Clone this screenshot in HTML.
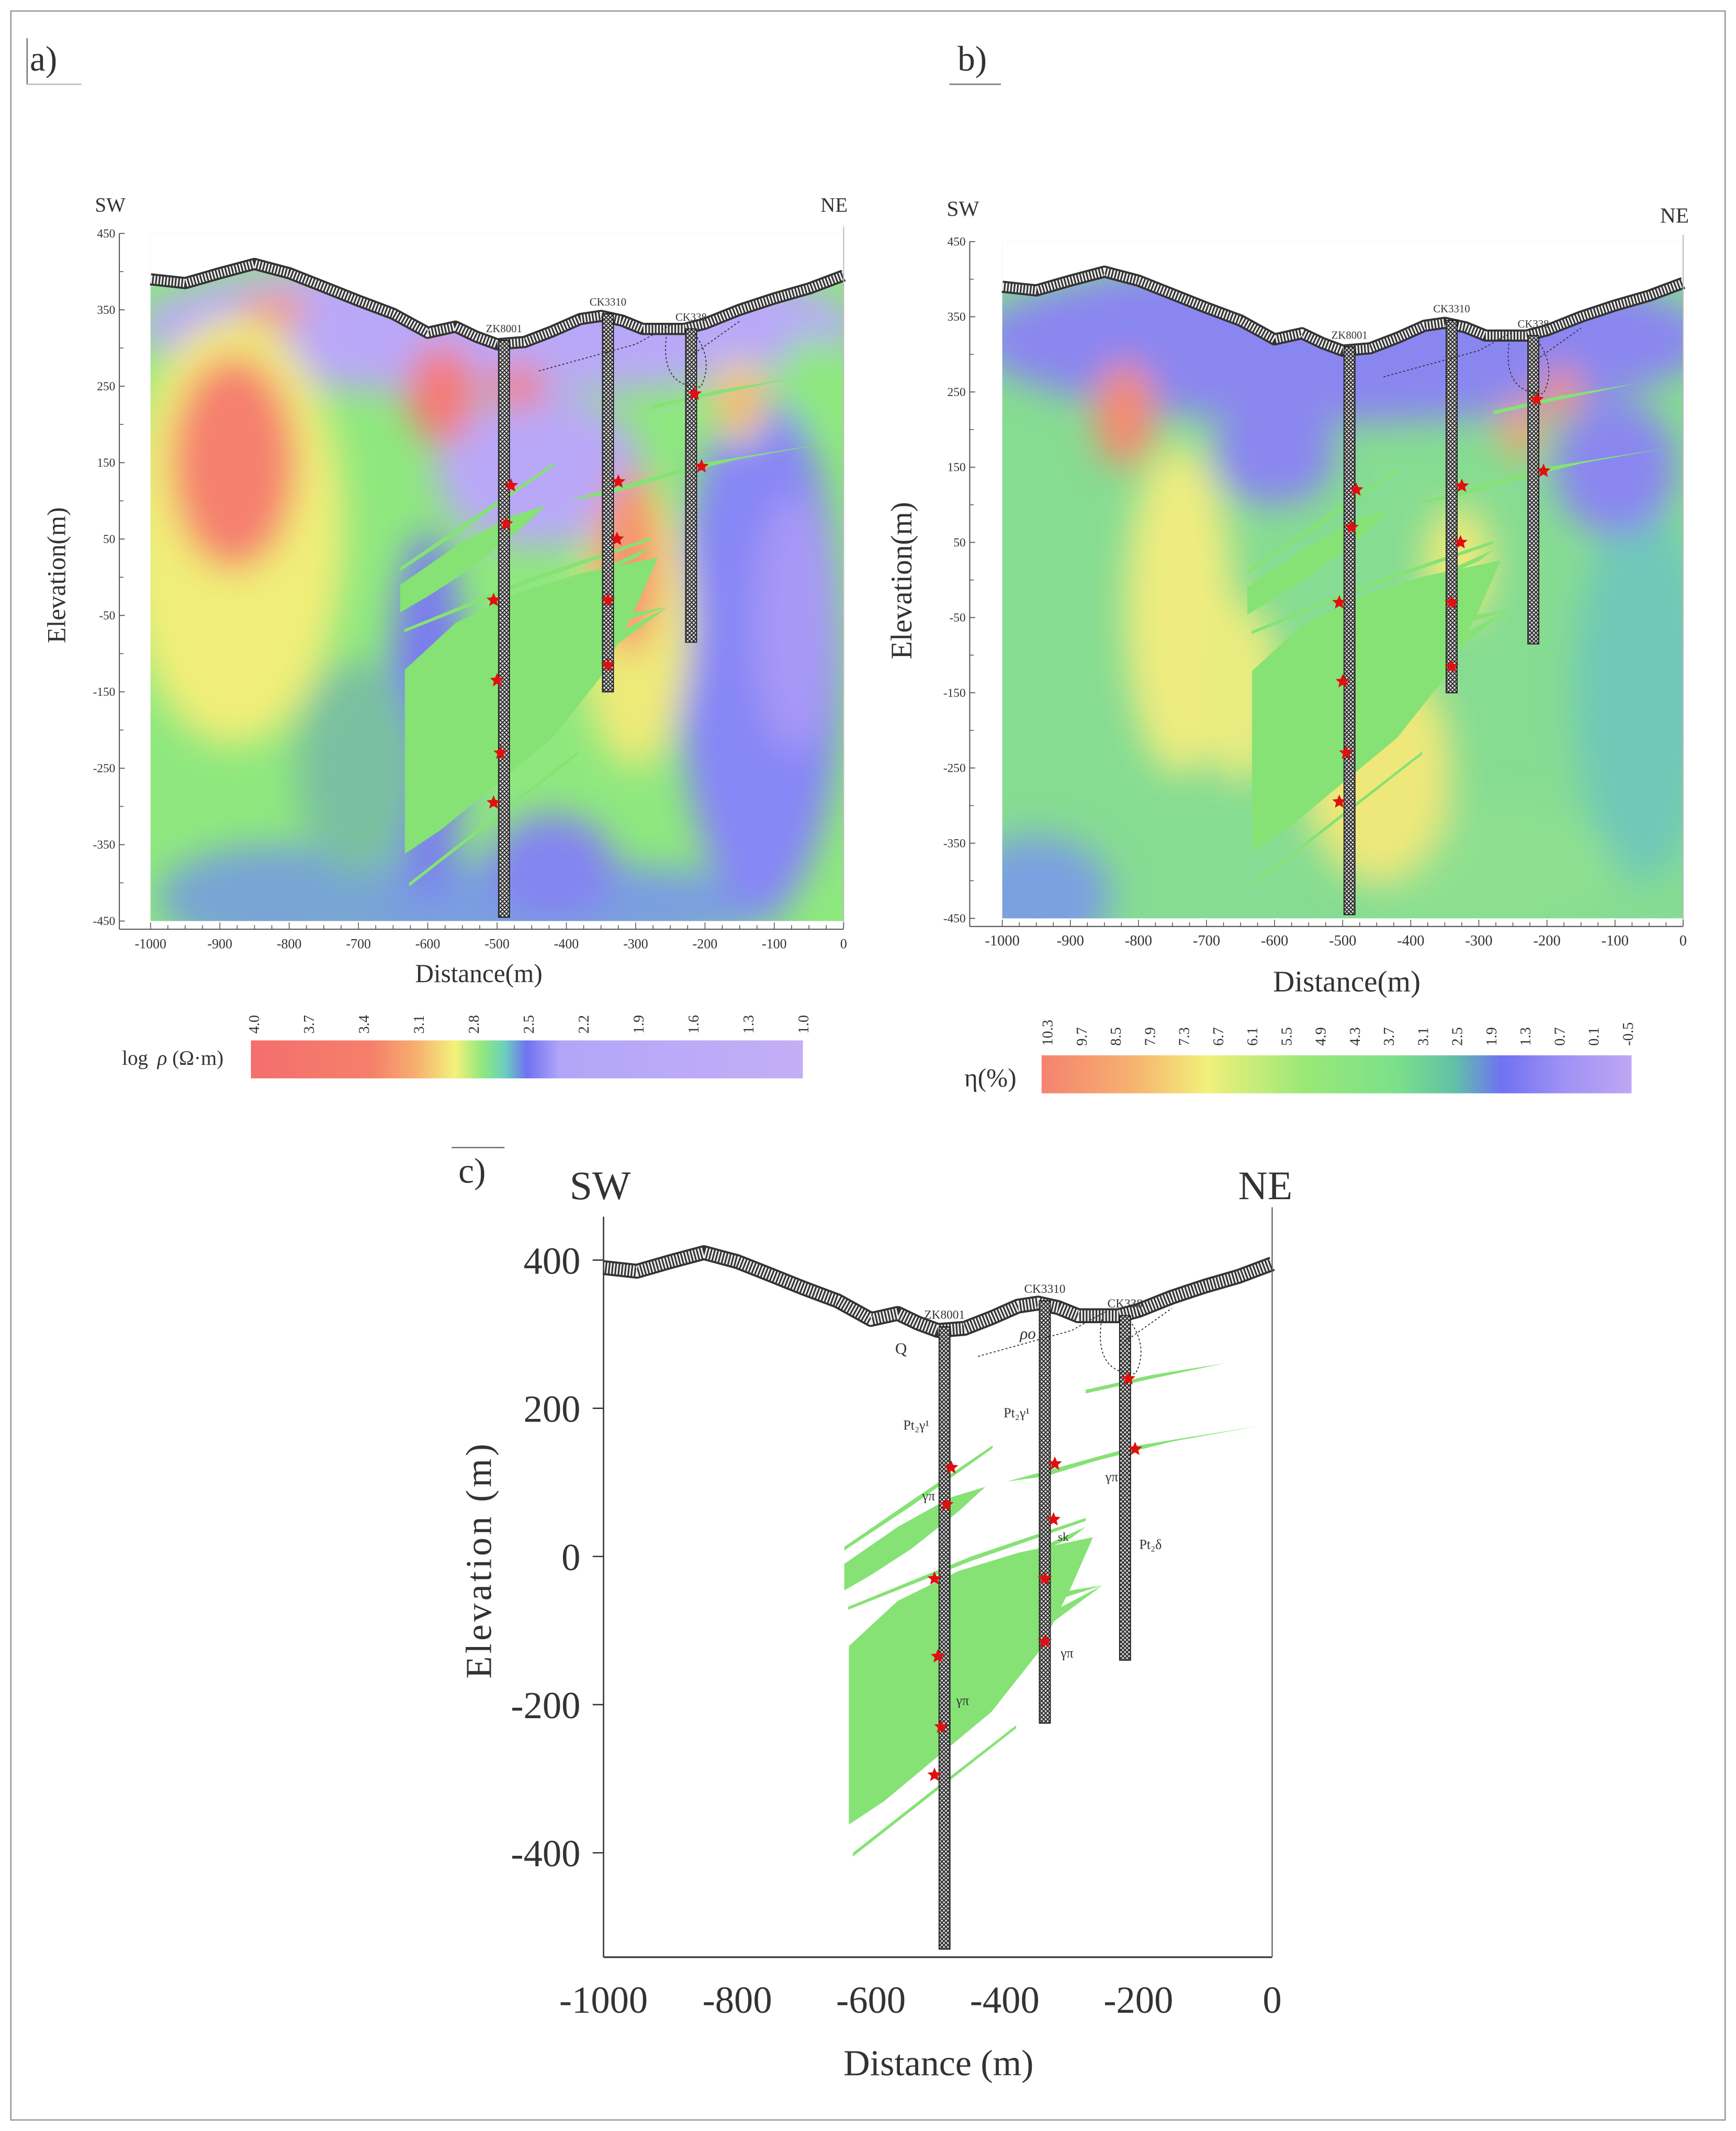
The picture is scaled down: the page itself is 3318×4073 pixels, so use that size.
<!DOCTYPE html>
<html><head><meta charset="utf-8">
<style>
html,body{margin:0;padding:0;background:#fff;}
svg{display:block;}
text{font-family:"Liberation Serif",serif;fill:#333;}
</style></head>
<body>
<svg id="fig" xmlns="http://www.w3.org/2000/svg" width="3318" height="4073" viewBox="0 0 1280 1571">
<defs>
<filter id="blurA" x="-20%" y="-20%" width="140%" height="140%"><feGaussianBlur stdDeviation="13"/></filter>
<pattern id="hatch" width="3" height="3" patternUnits="userSpaceOnUse"><rect width="3" height="3" fill="#ddd"/><path d="M0 0L3 3M3 0L0 3" stroke="#222" stroke-width="0.7"/></pattern>
<linearGradient id="cbA" x1="0" x2="1" y1="0" y2="0">
<stop offset="0" stop-color="#f46e6e"/><stop offset="0.22" stop-color="#f5806a"/><stop offset="0.3" stop-color="#f6b070"/>
<stop offset="0.37" stop-color="#f4f27a"/><stop offset="0.42" stop-color="#8ee87e"/><stop offset="0.46" stop-color="#6ccfbe"/>
<stop offset="0.5" stop-color="#6f72f2"/><stop offset="0.56" stop-color="#b2a6f8"/><stop offset="1" stop-color="#c4aef6"/>
</linearGradient>
<linearGradient id="cbB" x1="0" x2="1" y1="0" y2="0">
<stop offset="0" stop-color="#f58270"/><stop offset="0.15" stop-color="#f6b070"/><stop offset="0.28" stop-color="#f2f07a"/>
<stop offset="0.45" stop-color="#98e878"/><stop offset="0.6" stop-color="#7ce08a"/><stop offset="0.7" stop-color="#62c0a8"/>
<stop offset="0.78" stop-color="#6f72f2"/><stop offset="0.88" stop-color="#9e90f4"/><stop offset="1" stop-color="#bea8f4"/>
</linearGradient>
<clipPath id="clipA"><rect x="111" y="172" width="511" height="507"/></clipPath>
<clipPath id="clipB"><rect x="739" y="178" width="502" height="499"/></clipPath>
</defs>
<rect x="8" y="8" width="1264" height="1555" fill="none" stroke="#999" stroke-width="1"/>
<g id="root"></g>
</svg>
<script>
// ---------- data ----------
const xTicks = [-1000,-900,-800,-700,-600,-500,-400,-300,-200,-100,0];
const yTicksAB = [450,350,250,150,50,-50,-150,-250,-350,-450];
const xTicksC = [-1000,-800,-600,-400,-200,0];
const yTicksC = [400,200,0,-200,-400];
const cbLabelsA = ["4.0","3.7","3.4","3.1","2.8","2.5","2.2","1.9","1.6","1.3","1.0"];
const cbLabelsB = ["10.3","9.7","8.5","7.9","7.3","6.7","6.1","5.5","4.9","4.3","3.7","3.1","2.5","1.9","1.3","0.7","0.1","-0.5"];
const topoDist = [-1000,-950,-900,-850,-800,-750,-700,-650,-600,-560,-530,-500,-460,-420,-380,-350,-320,-290,-260,-230,-200,-150,-100,-50,0];
const topoElev = [390,385,398,410,398,380,362,345,320,328,315,305,308,322,338,342,336,325,325,325,332,350,365,378,395];
const holeNames = ["ZK8001","CK3310","CK338"];
const holeDist = [-490,-340,-220];
const holeTop = [310,345,325];
const holeBotAB = [-445,-150,-85];
const holeBotC = [-530,-225,-140];
const starDist = [-480,-487,-505,-500,-495,-505,-325,-327,-340,-340,-215,-205];
const starElev = [120,70,-30,-135,-230,-295,125,50,-30,-115,240,145];
const orebodies = [
 [[-633,-362],[-633,-121],[-560,-60],[-470,-20],[-380,5],[-268,26],[-300,-40],[-350,-130],[-420,-210],[-500,-270],[-580,-330]],
 [[-640,-46],[-640,-10],[-560,40],[-480,80],[-429,94],[-470,60],[-540,10],[-600,-25]],
 [[-640,13],[-540,75],[-418,150],[-418,146],[-540,68],[-640,8]],
 [[-634,-68],[-450,0],[-279,52],[-279,48],[-450,-6],[-634,-72]],
 [[-397,-10],[-340,15],[-279,40],[-300,25],[-360,2]],
 [[-397,-68],[-330,-50],[-254,-39],[-320,-58]],
 [[-404,-114],[-330,-75],[-254,-39],[-330,-90]],
 [[-397,101],[-300,125],[-200,150],[-21,176],[-150,155],[-260,130],[-340,108]],
 [[-279,225],[-180,245],[-70,261],[-180,240],[-279,220]],
 [[-627,-405],[-500,-315],[-383,-232],[-383,-228],[-500,-310],[-627,-400]]
];
// heatmap blobs (dist, elev, rx m, ry m, colour)
const blobA_d = [-500,-440,-880,-880,-500,-600,-120,-70,-580,-470,-820,-300,-310,-150,-150,-50,-820,-700,-420];
const blobA_e = [330,140,60,150,-430,-180,-100,-60,240,250,350,-60,20,230,230,260,-420,-250,-380];
const blobA_rx= [520,150,160,90,420,55,120,60,50,40,50,80,45,40,22,35,170,90,90];
const blobA_ry= [90,100,280,140,60,240,340,170,65,28,22,190,120,55,35,60,70,140,70];
const blobA_c = ["#b9a8f8","#b9a8f8","#f0ee78","#f5806e","#7a9ee0","#7a7af0","#8686f6","#a898f6","#f57a76","#f47a76","#f5a072","#eeea78","#f5906e","#f0e078","#f5a072","#8ee87e","#78a4d4","#7ac0a0","#8484f0"];
const blobB_d = [-500,-740,-820,-950,-330,-240,-180,-60,-600,-300,-450,-100,-650];
const blobB_e = [320,-40,220,-420,20,200,250,-150,170,-380,-250,150,-150];
const blobB_rx= [540,80,45,110,50,28,28,100,90,200,110,90,60];
const blobB_ry= [110,220,70,80,80,40,35,250,70,80,150,90,120];
const blobB_c = ["#8a86f0","#eeec80","#f58a70","#7aa0e0","#eeea7a","#f5a070","#f59070","#70c8b8","#8a86f0","#8ee090","#eee87a","#8a86f0","#e8ec80"];

// ---------- helpers ----------
const NS="http://www.w3.org/2000/svg";
const root=document.getElementById('root');
function el(tag,attrs,parent){const e=document.createElementNS(NS,tag);for(const k in attrs)e.setAttribute(k,attrs[k]);(parent||root).appendChild(e);return e;}
function txt(s,x,y,size,attrs,parent){const t=el('text',Object.assign({x:x,y:y,'font-size':size},attrs||{}),parent);t.textContent=s;return t;}
function mk(p){return{X:d=>p.x0+(d+1000)/1000*(p.x1-p.x0),Y:e=>p.yT+(p.eT-e)/(p.eT-p.eB)*(p.yB-p.yT)};}
function pts(arr,s){return arr.map(q=>s.X(q[0]).toFixed(1)+','+s.Y(q[1]).toFixed(1)).join(' ');}
function star(cx,cy,r,parent){let s='';for(let i=0;i<10;i++){const a=-Math.PI/2+i*Math.PI/5,rr=i%2?r*0.45:r;s+=(cx+rr*Math.cos(a)).toFixed(1)+','+(cy+rr*Math.sin(a)).toFixed(1)+' ';}return el('polygon',{points:s,fill:'#e01010'},parent);}

function drawGeology(s,g,labelSize,lw,holeBot){
  orebodies.forEach((b,i)=>{const p=el('polygon',{points:pts(b,s),fill:'#86e275'},g);
    
    });
  const tp=topoDist.map((d,i)=>[d,topoElev[i]]);
  const t1=el('polyline',{points:pts(tp,s),fill:'none',stroke:'#333','stroke-width':lw+2,'stroke-linejoin':'round'},g);
  
  
  el('polyline',{points:pts(tp,s),fill:'none',stroke:'#eee','stroke-width':lw-1,'stroke-dasharray':'1.2 1.2'},g);
  holeDist.forEach((d,i)=>{
    const x=s.X(d),y1=s.Y(holeTop[i]),y2=s.Y(holeBot[i]);
    const r=el('rect',{x:x-4,y:y1,width:8,height:y2-y1,fill:'url(#hatch)',stroke:'#222','stroke-width':0.8},g);
    
    
    const t=txt(holeNames[i],x,y1-6,labelSize,{'text-anchor':'middle'},g);
    
    
  });
  el('polyline',{points:pts([[-440,270],[-300,305],[-250,330]],s),fill:'none',stroke:'#333','stroke-width':0.7,'stroke-dasharray':'1.5 1.5'},g);
  el('path',{d:`M${s.X(-255)} ${s.Y(320)} q -6 40 25 40 q 10 -20 -5 -40`,fill:'none',stroke:'#333','stroke-width':0.7,'stroke-dasharray':'1.5 1.5'},g);
  el('polyline',{points:pts([[-220,290],[-150,335]],s),fill:'none',stroke:'#333','stroke-width':0.7,'stroke-dasharray':'1.5 1.5'},g);
  starDist.forEach((d,i)=>{const st=star(s.X(d),s.Y(starElev[i]),5.5,g);
    
    });
}

function heat(s,g,clip,bg,bd,be,brx,bry,bc,name){
  const hg=el('g',{'clip-path':'url(#'+clip+')'},g);
  
  
  el('rect',{x:s.X(-1100),y:s.Y(500),width:s.X(100)-s.X(-1100),height:s.Y(-500)-s.Y(500),fill:bg},hg);
  const bl=el('g',{filter:'url(#blurA)'},hg);
  bd.forEach((d,i)=>{
    const e=el('ellipse',{cx:s.X(d),cy:s.Y(be[i]),rx:brx[i]*(s.X(0)-s.X(-1000))/1000,ry:bry[i]*(s.Y(0)-s.Y(100))/100,fill:bc[i]},bl);
    
    
  });
  const tp=topoDist.map((d,i)=>[d,topoElev[i]]);
  el('polygon',{points:pts([[-1000,500]].concat(tp).concat([[0,500]]),s),fill:'#fff'},hg);
}

function axesAB(p,s,tickSize,axisX){
  const g=el('g',{});
  el('line',{x1:axisX,y1:p.yT,x2:axisX,y2:p.yB+6,stroke:'#555','stroke-width':0.8},g);
  el('line',{x1:axisX,y1:p.yB+6,x2:p.x1,y2:p.yB+6,stroke:'#555','stroke-width':0.8},g);
  el('line',{x1:p.x1,y1:p.yT-5,x2:p.x1,y2:p.yB+6,stroke:'#bbb','stroke-width':0.8},g);
  yTicksAB.forEach(v=>{const y=s.Y(v);el('line',{x1:axisX,y1:y,x2:axisX+4,y2:y,stroke:'#555','stroke-width':0.7},g);
    const t=txt(String(v),axisX-3,y+3,9,{'text-anchor':'end'},g);
    
    
    const ym=s.Y(v-50);if(v>-450)el('line',{x1:axisX,y1:ym,x2:axisX+3,y2:ym,stroke:'#555','stroke-width':0.6},g);});
  for(let v=-1000;v<=0;v+=25){const x=s.X(v);el('line',{x1:x,y1:p.yB+6,x2:x,y2:p.yB+(v%100===0?1:3),stroke:'#555','stroke-width':0.6},g);}
  xTicks.forEach(v=>{const t=txt(String(v),s.X(v),p.yB+20,tickSize,{'text-anchor':'middle'},g);
    
    });
  return g;
}

// ---------- panel a ----------
const PA={x0:111,x1:622,yT:172,yB:679,eT:450,eB:-450};const sA=mk(PA);
const ga=el('g',{});
txt('a)',22,52,26,{},ga);el('line',{x1:20,y1:28,x2:20,y2:62,stroke:'#777'},ga);el('line',{x1:20,y1:62,x2:60,y2:62,stroke:'#bbb'},ga);
heat(sA,ga,'clipA','#8ee87e',blobA_d,blobA_e,blobA_rx,blobA_ry,blobA_c,'resistivity-heatmap');
drawGeology(sA,ga,8,7,holeBotAB);
axesAB(PA,sA,10,88);
txt('SW',70,156,15,{},ga);txt('NE',605,156,15,{},ga);
txt('Distance(m)',353,724,19,{'text-anchor':'middle'},ga);
txt('Elevation(m)',48,424,19,{'text-anchor':'middle',transform:'rotate(-90 48 424)'},ga);
const cba=el('rect',{x:185,y:767,width:407,height:28,fill:'url(#cbA)'},ga);

cbLabelsA.forEach((l,i)=>{const x=187+i*(405/(cbLabelsA.length-1));txt(l,x+4,762,11,{transform:`rotate(-90 ${x+4} 762)`},ga);});
txt('log ',90,785,15,{},ga);txt('ρ',116,785,15,{'font-style':'italic'},ga);txt('(Ω·m)',127,785,15,{},ga);

// ---------- panel b ----------
const PB={x0:739,x1:1241,yT:178,yB:677,eT:450,eB:-450};const sB=mk(PB);
const gb=el('g',{});
txt('b)',706,52,26,{},gb);el('line',{x1:700,y1:62,x2:738,y2:62,stroke:'#777'},gb);
heat(sB,gb,'clipB','#86dc92',blobB_d,blobB_e,blobB_rx,blobB_ry,blobB_c,'polarizability-heatmap');
drawGeology(sB,gb,8,7,holeBotAB);
axesAB(PB,sB,11,715);
txt('SW',698,159,16,{},gb);txt('NE',1224,164,16,{},gb);
txt('Distance(m)',993,731,22,{'text-anchor':'middle'},gb);
txt('Elevation(m)',672,428,22,{'text-anchor':'middle',transform:'rotate(-90 672 428)'},gb);
const cbb=el('rect',{x:768,y:778,width:435,height:28,fill:'url(#cbB)'},gb);

cbLabelsB.forEach((l,i)=>{const x=772+i*(428/(cbLabelsB.length-1));txt(l,x+4,771,11,{transform:`rotate(-90 ${x+4} 771)`},gb);});
txt('η(%)',711,801,19,{},gb);

// ---------- panel c ----------
const PC={x0:445,x1:938,yT:929,yB:1366,eT:400,eB:-400};const sC=mk(PC);
const gc=el('g',{});
txt('c)',338,872,26,{},gc);el('line',{x1:333,y1:846,x2:372,y2:846,stroke:'#777'},gc);
drawGeology(sC,gc,9,9,holeBotC);
el('line',{x1:445,y1:897,x2:445,y2:1443,stroke:'#333','stroke-width':1},gc);
el('line',{x1:445,y1:1443,x2:938,y2:1443,stroke:'#333','stroke-width':1.2},gc);
el('line',{x1:938,y1:890,x2:938,y2:1443,stroke:'#555','stroke-width':0.8},gc);
yTicksC.forEach(v=>{const y=sC.Y(v);el('line',{x1:437,y1:y,x2:445,y2:y,stroke:'#333'},gc);
  const t=txt(String(v),428,y+10,28,{'text-anchor':'end'},gc);});
xTicksC.forEach(v=>{const t=txt(String(v),sC.X(v),1484,28,{'text-anchor':'middle'},gc);});
txt('SW',420,884,30,{},gc);txt('NE',913,884,30,{},gc);
txt('Q',660,998,12,{},gc);txt('ρo',752,987,12,{'font-style':'italic'},gc);
txt('Pt₂γ¹',666,1054,10,{},gc);txt('Pt₂γ¹',740,1045,10,{},gc);
txt('γπ',680,1106,10,{},gc);txt('γπ',815,1092,10,{},gc);txt('sk',780,1136,9,{},gc);
txt('Pt₂δ',840,1142,10,{},gc);txt('γπ',782,1222,10,{},gc);txt('γπ',705,1257,10,{},gc);
txt('Distance (m)',692,1530,27,{'text-anchor':'middle'},gc);
txt('Elevation (m)',362,1150,27,{'text-anchor':'middle',transform:'rotate(-90 362 1150)','letter-spacing':'2'},gc);
</script>
</body></html>
